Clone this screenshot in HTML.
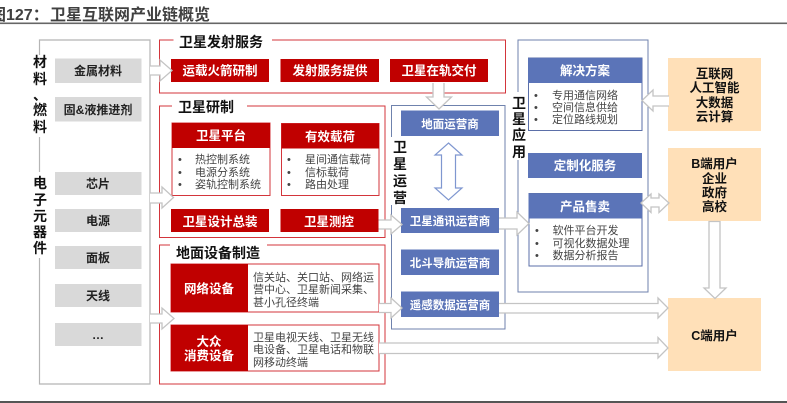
<!DOCTYPE html>
<html><head><meta charset="utf-8"><style>
html,body{margin:0;padding:0;background:#fff;width:787px;height:403px;overflow:hidden}
svg{display:block;filter:blur(.35px)}
text{font-family:"Liberation Sans","Noto Sans CJK SC",sans-serif}
.h{font-size:14px;font-weight:700;fill:#111}
.w{font-size:12.5px;font-weight:700;fill:#fff;text-anchor:middle}
.g{font-size:12px;font-weight:700;fill:#222;text-anchor:middle}
.v{font-size:14px;font-weight:700;fill:#111;text-anchor:middle}
.s{font-size:11px;fill:#444}
.k{font-size:12.5px;font-weight:700;fill:#111;text-anchor:middle}
.ar{fill:#fff;stroke:#c4c4c4;stroke-width:1.3}
.rb{fill:#c00000}.bb{fill:#5b74b8}.gb{fill:#d9d9d9}.pb{fill:#ffe0b8}
.ro{fill:none;stroke:#d3353b;stroke-width:1}
.bo{fill:none;stroke:#6f82ad;stroke-width:1}
</style></head><body>
<svg width="787" height="403" viewBox="0 0 787 403" xmlns="http://www.w3.org/2000/svg">
<text x="-10" y="20" font-size="16" font-weight="700" fill="#404040">图127：</text>
<text x="50" y="20" font-size="16" font-weight="700" fill="#404040">卫星互联网产业链概览</text>
<rect x="0" y="22.5" width="787" height="1.6" fill="#666"/>
<rect x="0" y="401" width="787" height="2" fill="#555"/>

<!-- left frame -->
<path d="M39.5 55V40H150V384H39.5V258M39.5 172V137" fill="none" stroke="#b5b5b5" stroke-width="1.2"/>
<g class="v">
<text class="v" x="40" y="67">材</text><text class="v" x="40" y="84">料</text><text class="v" x="40" y="100">、</text><text class="v" x="40" y="115">燃</text><text class="v" x="40" y="132">料</text>
<text class="v" x="40" y="188">电</text><text class="v" x="40" y="205">子</text><text class="v" x="40" y="221">元</text><text class="v" x="40" y="237">器</text><text class="v" x="40" y="253">件</text>
</g>
<rect class="gb" x="55" y="58.5" width="86.5" height="24.5"/><text class="g" x="98" y="75">金属材料</text>
<rect class="gb" x="55" y="97" width="86.5" height="24.5"/><text class="g" x="98" y="114">固&amp;液推进剂</text>
<rect class="gb" x="55" y="172" width="86.5" height="23"/><text class="g" x="98" y="188">芯片</text>
<rect class="gb" x="55" y="209" width="86.5" height="23"/><text class="g" x="98" y="225">电源</text>
<rect class="gb" x="55" y="246" width="86.5" height="23"/><text class="g" x="98" y="262">面板</text>
<rect class="gb" x="55" y="284" width="86.5" height="23"/><text class="g" x="98" y="300">天线</text>
<rect class="gb" x="55" y="323" width="86.5" height="23"/><text class="g" x="98" y="339">…</text>

<!-- section 1 -->
<path class="ro" d="M173.5 40H159.5V93H505.5V40H272"/>
<text class="h" x="179" y="47">卫星发射服务</text>
<rect class="rb" x="171" y="59" width="98" height="23"/><text class="w" x="220" y="75">运载火箭研制</text>
<rect class="rb" x="280.5" y="59" width="98.5" height="23"/><text class="w" x="330" y="75">发射服务提供</text>
<rect class="rb" x="390" y="59" width="98" height="23"/><text class="w" x="439" y="75">卫星在轨交付</text>

<!-- section 2 -->
<path class="ro" d="M172 106H159.5V237.5H385V106H247"/>
<text class="h" x="178" y="112">卫星研制</text>
<rect x="172" y="123" width="98" height="72.5" fill="#fff" stroke="#d3353b"/>
<rect class="rb" x="172" y="123" width="98" height="25"/><text class="w" x="221" y="140">卫星平台</text>
<rect x="281.5" y="123.5" width="97.5" height="72" fill="#fff" stroke="#d3353b"/>
<rect class="rb" x="281.5" y="123.5" width="97.5" height="25"/><text class="w" x="330" y="141">有效载荷</text>
<g class="s">
<text class="s" x="178" y="163">•</text><text class="s" x="195" y="163">热控制系统</text>
<text class="s" x="178" y="176">•</text><text class="s" x="195" y="176">电源分系统</text>
<text class="s" x="178" y="188">•</text><text class="s" x="195" y="188">姿轨控制系统</text>
<text class="s" x="287" y="163">•</text><text class="s" x="305" y="163">星间通信载荷</text>
<text class="s" x="287" y="176">•</text><text class="s" x="305" y="176">信标载荷</text>
<text class="s" x="287" y="188">•</text><text class="s" x="305" y="188">路由处理</text>
</g>
<rect class="rb" x="171" y="209" width="98" height="23"/><text class="w" x="220" y="226">卫星设计总装</text>
<rect class="rb" x="280.5" y="209" width="98" height="23"/><text class="w" x="329" y="226">卫星测控</text>

<!-- section 3 -->
<path class="ro" d="M170 245H159.5V384H385V245H267"/>
<text class="h" x="176" y="258">地面设备制造</text>
<rect x="171" y="264" width="208" height="48" fill="#fff" stroke="#d3353b"/>
<rect class="rb" x="171" y="264" width="77" height="48"/><text class="w" x="209" y="293">网络设备</text>
<text class="s" x="253" y="281">信关站、关口站、网络运</text>
<text class="s" x="253" y="293">营中心、卫星新闻采集、</text>
<text class="s" x="253" y="306">甚小孔径终端</text>
<rect x="171" y="325" width="208" height="46" fill="#fff" stroke="#d3353b"/>
<rect class="rb" x="171" y="325" width="77" height="46"/><text class="w" x="209" y="346">大众</text><text class="w" x="209" y="360">消费设备</text>
<text class="s" x="253" y="341">卫星电视天线、卫星无线</text>
<text class="s" x="253" y="353">电设备、卫星电话和物联</text>
<text class="s" x="253" y="366">网移动终端</text>

<!-- operators -->
<path class="bo" d="M391.5 137V105.5H505V329H391.5V205" stroke-width="1.2"/>
<text class="v" x="400" y="152">卫</text><text class="v" x="400" y="169">星</text><text class="v" x="400" y="186">运</text><text class="v" x="400" y="203">营</text>
<rect class="bb" x="401" y="110.5" width="98" height="25.5"/><text class="w" x="450" y="128" style="font-size:11.5px">地面运营商</text>
<rect class="bb" x="401" y="208" width="98" height="25"/><text class="w" x="450" y="225" style="font-size:11.5px">卫星通讯运营商</text>
<rect class="bb" x="401" y="249.5" width="98" height="25.5"/><text class="w" x="450" y="267" style="font-size:11.5px">北斗导航运营商</text>
<rect class="bb" x="401" y="291.5" width="98" height="25.5"/><text class="w" x="450" y="309" style="font-size:11.5px">遥感数据运营商</text>
<path d="M448.5 143L462 155H455.5V188H462L448.5 200L435 188H441.5V155H435Z" fill="#fff" stroke="#7f97d0" stroke-width="1.2"/>

<!-- application -->
<path class="bo" d="M518 92V40H648V292H518V160" stroke-width="1.2"/>
<text class="v" x="519" y="108">卫</text><text class="v" x="519" y="124">星</text><text class="v" x="519" y="140">应</text><text class="v" x="519" y="157">用</text>
<rect x="528.5" y="58" width="113.5" height="72.5" fill="#fff" stroke="#5b6fa8"/>
<rect class="bb" x="528" y="58" width="114" height="25"/><text class="w" x="585" y="75">解决方案</text>
<text class="s" x="534" y="99">•</text><text class="s" x="552" y="99">专用通信网络</text>
<text class="s" x="534" y="111">•</text><text class="s" x="552" y="111">空间信息供给</text>
<text class="s" x="534" y="123">•</text><text class="s" x="552" y="123">定位路线规划</text>
<rect class="bb" x="528" y="153" width="114" height="25"/><text class="w" x="585" y="170">定制化服务</text>
<rect x="529" y="193.5" width="113" height="72.5" fill="#fff" stroke="#5b6fa8"/>
<rect class="bb" x="528.5" y="193.5" width="113.5" height="25"/><text class="w" x="585" y="211">产品售卖</text>
<text class="s" x="535" y="234">•</text><text class="s" x="552.5" y="234">软件平台开发</text>
<text class="s" x="535" y="247">•</text><text class="s" x="552.5" y="247">可视化数据处理</text>
<text class="s" x="535" y="259">•</text><text class="s" x="552.5" y="259">数据分析报告</text>

<!-- peach -->
<rect class="pb" x="668" y="58" width="93" height="73"/>
<text class="k" x="714.5" y="78">互联网</text><text class="k" x="714.5" y="92">人工智能</text><text class="k" x="714.5" y="107">大数据</text><text class="k" x="714.5" y="121">云计算</text>
<rect class="pb" x="668" y="148" width="93" height="73"/>
<text class="k" x="714.5" y="168">B端用户</text><text class="k" x="714.5" y="183">企业</text><text class="k" x="714.5" y="197">政府</text><text class="k" x="714.5" y="211">高校</text>
<rect class="pb" x="668" y="298" width="93" height="73"/>
<text class="k" x="714.5" y="340">C端用户</text>

<!-- arrows -->
<path class="ar" d="M150 66H160V60L172 70.5L160 81V75H150"/>
<path class="ar" d="M150 193H162V187L173.5 197.5L162 208V203H150"/>
<path class="ar" d="M150 314H162V308L174 318.5L162 329V323H150"/>
<path class="ar" d="M433 83V97H426.5L439 109L451.5 97H444V83"/>
<path class="ar" d="M378.5 220H391V215L402 224.5L391 234V229H378.5"/>
<path class="ar" d="M379 303.5H391V298L402 308L391 318V312.5H379"/>
<path class="ar" d="M499 218H517V212L529 223.5L517 235V229H499"/>
<path class="ar" d="M499 303.5H658V298L668 308L658 318V313H499"/>
<path class="ar" d="M379 343H658V337.5L668 348L658 358V353.5H379"/>
<path class="ar" d="M669 96H653V90L642 100.5L653 111V106H669"/>
<path class="ar" d="M641 203L651 194V198H659V194L669 203L659 212.5V207H651V212.5Z"/>
<path class="ar" d="M709 221.5V288H704L715 298.5L726 288H720V221.5Z"/>
</svg>
</body></html>
